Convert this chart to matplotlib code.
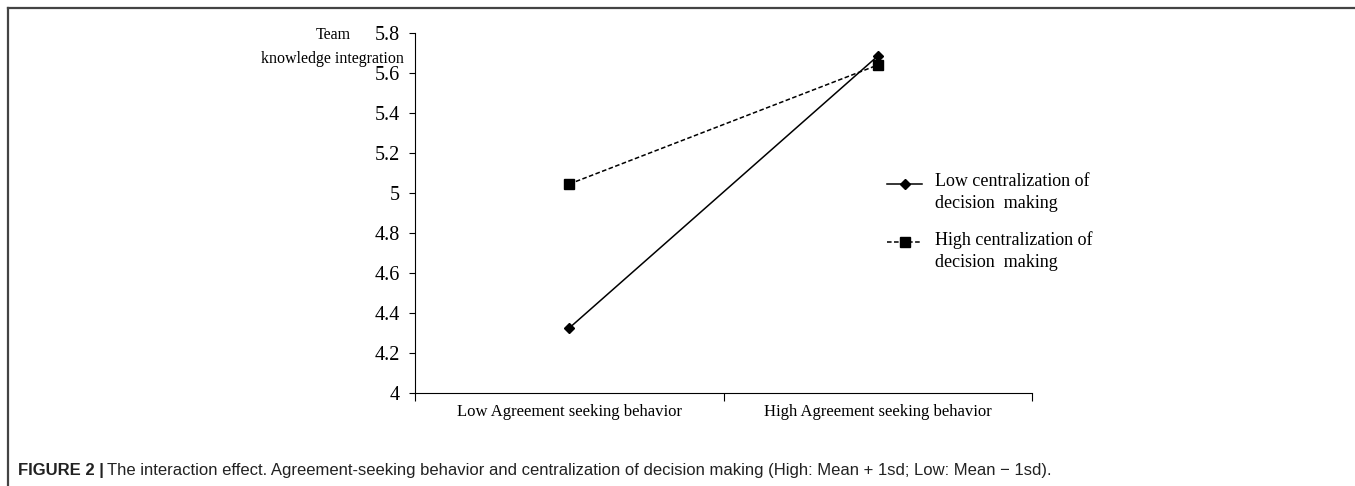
import numpy as np
import matplotlib.pyplot as plt
from matplotlib.lines import Line2D
from matplotlib.legend_handler import HandlerLine2D

groups = ['Low Agreement seeking behavior', 'High Agreement seeking behavior']
low_central = [4.325, 5.685]
high_central = [5.045, 5.64]
series_names = ['Low centralization of\ndecision  making',
                'High centralization of\ndecision  making']
yticks = [4, 4.2, 4.4, 4.6, 4.8, 5, 5.2, 5.4, 5.6, 5.8]
ytick_labels = ['4', '4.2', '4.4', '4.6', '4.8', '5', '5.2', '5.4', '5.6', '5.8']

serif = ['Liberation Serif', 'DejaVu Serif']


class FirstLineHandler(HandlerLine2D):
    # put the legend sample next to the first line of a two-line label
    def create_artists(self, legend, orig_handle, xdescent, ydescent,
                       width, height, fontsize, trans):
        artists = super().create_artists(legend, orig_handle, xdescent, ydescent,
                                         width, height, fontsize, trans)
        for a in artists:
            a.set_ydata(np.asarray(a.get_ydata()) + 0.5 * fontsize)
        return artists


fig = plt.figure(figsize=(13.55, 4.86), dpi=100)
ax = fig.add_axes([0.3063, 0.1914, 0.4553, 0.7406])

x = list(range(len(groups)))
ax.plot(x, low_central, color='black', linewidth=1.1, marker='D',
        markersize=5.5, label=series_names[0])
ax.plot(x, high_central, color='black', linewidth=1.1, linestyle=(0, (3, 1.6)),
        marker='s', markersize=6.5, label=series_names[1])

ax.set_xlim(-0.5, len(groups) - 0.5)
ax.set_ylim(4, 5.8)
ax.set_yticks(yticks)
ax.set_yticklabels(ytick_labels, fontfamily=serif, fontsize=14.5)

# category labels sit between boundary ticks, like a spreadsheet chart
ax.set_xticks([i - 0.5 for i in range(len(groups) + 1)])
ax.set_xticklabels([])
ax.set_xticks(x, minor=True)
ax.set_xticklabels(groups, minor=True, fontfamily=serif, fontsize=12)
ax.tick_params(axis='x', which='minor', length=0, pad=8)
ax.tick_params(axis='x', which='major', length=6, direction='out', width=0.8)
ax.tick_params(axis='y', length=4.5, direction='out', width=0.8, pad=6.5)

for side in ['top', 'right']:
    ax.spines[side].set_visible(False)
for side in ['left', 'bottom']:
    ax.spines[side].set_linewidth(0.8)

# y-axis title, two centred lines to the left of the top ticks
fig.text(0.2457, 0.92, 'Team', ha='center', va='baseline',
         fontfamily=serif, fontsize=11.5)
fig.text(0.2457, 0.871, 'knowledge integration', ha='center', va='baseline',
         fontfamily=serif, fontsize=11.5)

leg = ax.legend(loc='upper left', bbox_to_anchor=(0.765, 0.611), frameon=False,
                prop={'family': serif, 'size': 13}, handlelength=1.94,
                handletextpad=0.72, labelspacing=1.05, borderpad=0,
                borderaxespad=0, handler_map={Line2D: FirstLineHandler()})
for t in leg.get_texts():
    t.set_linespacing(1.4)

# panel frame (top and left edges)
fig.add_artist(Line2D([0.006, 1.0], [0.984, 0.984], color='#444444', linewidth=1.6))
fig.add_artist(Line2D([0.006, 0.006], [0.0, 0.984], color='#444444', linewidth=1.6))

fig.text(0.0135, 0.0226, 'FIGURE 2 |', fontfamily='Liberation Sans',
         fontweight='bold', fontsize=12, color='#222222', va='baseline')
fig.text(0.0788, 0.0226,
         'The interaction effect. Agreement-seeking behavior and centralization '
         'of decision making (High: Mean + 1sd; Low: Mean \u2212 1sd).',
         fontfamily='Liberation Sans', fontsize=12, color='#222222', va='baseline')

fig.savefig('out.png', dpi=100)
